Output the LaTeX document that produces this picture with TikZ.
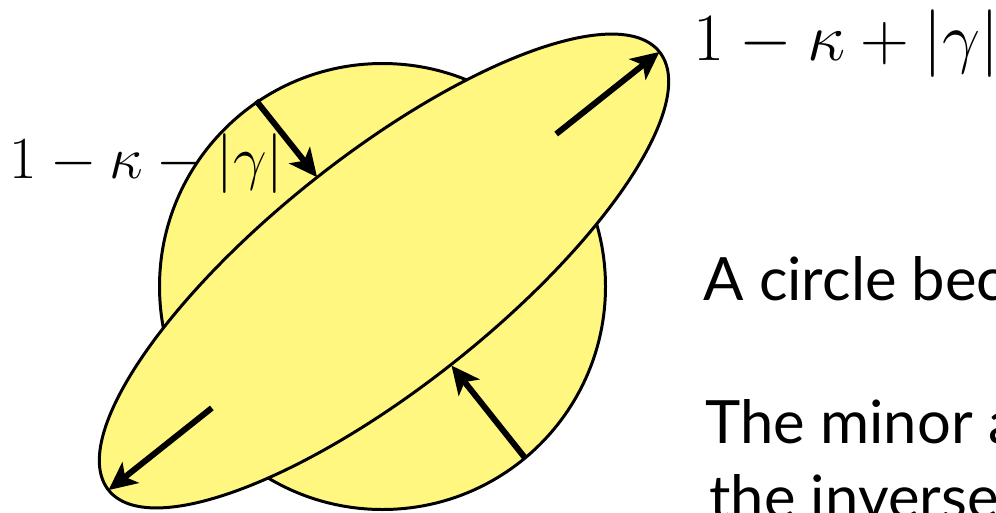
\RequirePackage{fix-cm}
\documentclass[tikz,border=0pt]{standalone}
\usepackage{amsmath, amssymb}
\usepackage{fontspec}
\setsansfont{Lato}
\usetikzlibrary{arrows.meta}
\definecolor{paleyellow}{RGB}{255,247,128}
\tikzset{
  blob/.style={fill=paleyellow, draw=black, line width=1.7pt},
  shear/.style={-{Stealth[length=16pt,width=15pt,inset=4pt]}, line width=3.4pt},
  mathlbl/.style={anchor=base west, inner sep=0pt},
  bodytxt/.style={anchor=base west, inner sep=0pt, font=\sffamily\fontsize{34}{40}\selectfont},
}

\begin{document}
\begin{tikzpicture}[x=0.02cm, y=0.02cm]
  \useasboundingbox (0,0) rectangle (996,512);
  \clip (0,0) rectangle (996,512);
  % circle
  \draw[blob] (382.5,225.5) circle (223);
  % ellipse (rotated frame)
  \begin{scope}[shift={(384,241)}, rotate=38.5]
    \draw[blob] (0,0) ellipse (352 and 115);
    \draw[shear] (220,0) -- (352,0);
    \draw[shear] (-220,0) -- (-352,0);
    \draw[shear] (6,213) -- (6,115);
    \draw[shear] (-6,-233) -- (-6,-116);
  \end{scope}
  % labels
  \node[mathlbl, font=\fontsize{38.5}{42}\selectfont] (plus) at (693,452) {$1-\kappa+|\gamma|$};
  \node[mathlbl, font=\fontsize{34}{38}\selectfont] (minus) at (9,334) {$1-\kappa-|\gamma|$};
  % text
  \node[bodytxt] (line1) at (703,212) {A circle bec};
  \node[bodytxt] (line2) at (705,69) {The minor a};
  \node[bodytxt] (line3) at (709,-6) {the inverse};
\end{tikzpicture}
\end{document}
